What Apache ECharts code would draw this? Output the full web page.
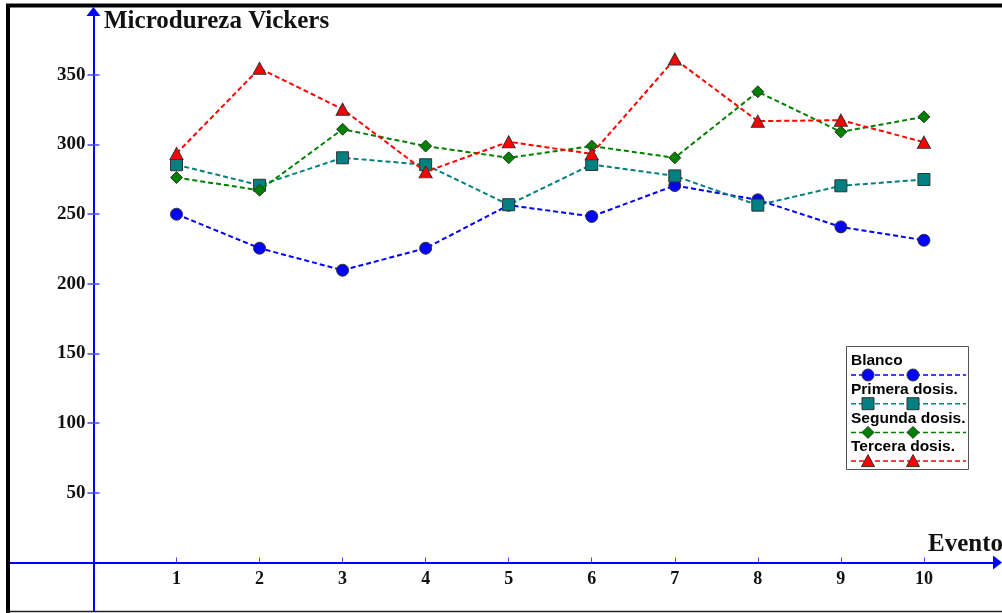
<!DOCTYPE html>
<html>
<head>
<meta charset="utf-8">
<script src="https://cdn.jsdelivr.net/npm/echarts@6/dist/echarts.min.js"></script>
<style>
  html, body { margin: 0; padding: 0; background: #ffffff; }
  #chart { width: 1002px; height: 613px; }
</style>
</head>
<body>
<div id="chart"></div>
<script>
// Event numbers on the horizontal axis and tick labels on the vertical one
const eventos = [1, 2, 3, 4, 5, 6, 7, 8, 9, 10];
const yTicks = [50, 100, 150, 200, 250, 300, 350];

// Vickers microhardness per event
const blanco  = [250.0, 225.6, 209.8, 225.6, 256.5, 248.4, 270.6, 260.3, 240.9, 231.3];
const primera = [285.5, 270.8, 290.5, 285.5, 256.8, 285.7, 277.5, 256.5, 270.4, 274.9];
const segunda = [276.3, 267.2, 311.0, 298.9, 290.5, 298.9, 290.5, 337.9, 309.1, 319.9];
const tercera = [293.6, 354.7, 325.4, 280.4, 302.0, 293.3, 361.4, 316.8, 317.5, 301.7];

const seriesNames = ['Blanco', 'Primera dosis.', 'Segunda dosis.', 'Tercera dosis.'];
const seriesValues = [blanco, primera, segunda, tercera];

// Look of each series: colour and marker
const looks = [
  { color: '#0000ff', symbol: 'circle',   size: 12 },
  { color: '#008080', symbol: 'rect',     size: 12 },
  { color: '#008000', symbol: 'diamond',  size: 12 },
  { color: '#ff0000', symbol: 'triangle', size: [13, 12] }
];

const axisBlue = '#0000ff';
const tickBlue = '#4848ff';
const dash = [5, 3];

// Plot box and axis ranges; the two axes cross at the origin
const box = { left: 9, right: 4.5, top: 11.5, bottom: 2 };
const W = 1002, H = 613;
const xMin = -1.017, xMax = 10.886;
const yMin = -34.8, yMax = 395.5;
const plotW = W - box.left - box.right;
const plotH = H - box.top - box.bottom;
const xZeroPx = box.left + (0 - xMin) / (xMax - xMin) * plotW;      // where x = 0 falls
const yZeroPx = box.top + (yMax - 0) / (yMax - yMin) * plotH;       // where y = 0 falls

const chart = echarts.init(document.getElementById('chart'), null, { renderer: 'canvas' });

// Legend drawn as a small boxed panel: name on top, dashed sample with two markers below
function markerShape(look, cx, cy) {
  const style = { fill: look.color, stroke: '#333333', lineWidth: 1 };
  if (look.symbol === 'circle') {
    return { type: 'circle', shape: { cx: cx, cy: cy, r: 6 }, style: style };
  }
  if (look.symbol === 'rect') {
    return { type: 'rect', shape: { x: cx - 6, y: cy - 6, width: 12, height: 12 }, style: style };
  }
  if (look.symbol === 'diamond') {
    return { type: 'polygon', shape: { points: [[cx, cy - 6], [cx + 6, cy], [cx, cy + 6], [cx - 6, cy]] }, style: style };
  }
  return { type: 'polygon', shape: { points: [[cx, cy - 6.5], [cx + 6.5, cy + 5.5], [cx - 6.5, cy + 5.5]] }, style: style };
}

const legendBox = { x: 846, y: 346, w: 122, h: 123 };
const legendChildren = [{
  type: 'rect',
  shape: { x: legendBox.x + 0.5, y: legendBox.y + 0.5, width: legendBox.w, height: legendBox.h },
  style: { fill: '#ffffff', stroke: '#555555', lineWidth: 1 }
}];
seriesNames.forEach(function (name, i) {
  const look = looks[i];
  const base = 369 + i * 28.7;
  const lineY = base + 6;
  legendChildren.push({
    type: 'text',
    style: {
      x: 851, y: base, text: name,
      font: 'bold 15.5px "Liberation Sans", Arial, sans-serif',
      fill: '#000000', textAlign: 'left', textVerticalAlign: 'bottom'
    }
  });
  legendChildren.push({
    type: 'line',
    shape: { x1: 851, y1: lineY, x2: 966, y2: lineY },
    style: { stroke: look.color, lineWidth: 1.5, lineDash: dash }
  });
  legendChildren.push(markerShape(look, 868, lineY));
  legendChildren.push(markerShape(look, 913, lineY));
});

const serifBold = '"Liberation Serif", "Times New Roman", serif';

const option = {
  animation: false,
  backgroundColor: '#ffffff',
  grid: { left: box.left, right: box.right, top: box.top, bottom: box.bottom, containLabel: false, outerBoundsMode: 'none' },
  xAxis: {
    type: 'value',
    position: 'bottom',
    offset: -(H - box.bottom - yZeroPx),
    min: xMin,
    max: xMax,
    axisLine: {
      onZero: false,
      lineStyle: { color: axisBlue, width: 2 },
      symbol: ['none', 'triangle'], symbolSize: [14, 9]
    },
    axisTick: { show: true, inside: true, length: 5, customValues: eventos, lineStyle: { color: tickBlue, width: 1 } },
    axisLabel: {
      customValues: eventos, margin: 8,
      fontFamily: serifBold, fontWeight: 'bold', fontSize: 18, color: '#111111'
    },
    splitLine: { show: false }
  },
  yAxis: [
    {
      type: 'value',
      position: 'left',
      offset: -(xZeroPx - box.left),
      min: yMin,
      max: yMax,
      axisLine: {
        onZero: false,
        lineStyle: { color: axisBlue, width: 2 },
        symbol: ['none', 'triangle'], symbolSize: [14, 9]
      },
      axisTick: { show: true, length: 6, customValues: yTicks, lineStyle: { color: tickBlue, width: 1.5 } },
      axisLabel: {
        customValues: yTicks, margin: 8,
        fontFamily: serifBold, fontWeight: 'bold', fontSize: 19, color: '#111111'
      },
      splitLine: { show: false }
    },
    {
      // mirror axis carrying the right-hand half of each tick
      type: 'value',
      position: 'right',
      offset: -(W - box.right - xZeroPx),
      min: yMin,
      max: yMax,
      axisLine: { show: false, onZero: false },
      axisTick: { show: true, length: 6, customValues: yTicks, lineStyle: { color: tickBlue, width: 1.5 } },
      axisLabel: { show: false },
      splitLine: { show: false }
    }
  ],
  series: seriesNames.map(function (name, i) {
    const look = looks[i];
    return {
      name: name,
      type: 'line',
      yAxisIndex: 0,
      data: eventos.map(function (e, j) { return [e, seriesValues[i][j]]; }),
      symbol: look.symbol,
      symbolSize: look.size,
      showAllSymbol: true,
      lineStyle: { color: look.color, width: 2, type: dash },
      itemStyle: { color: look.color, borderColor: '#333333', borderWidth: 1 },
      emphasis: { disabled: true },
      z: 3 + i
    };
  }),
  graphic: [
    {
      type: 'text', left: 104, top: 9, z: 20,
      style: { text: 'Microdureza Vickers', font: 'bold 25px ' + serifBold, fill: '#111111' }
    },
    {
      type: 'text', left: 928, top: 532, z: 20,
      style: { text: 'Evento', font: 'bold 25px ' + serifBold, fill: '#111111' }
    },
    { type: 'group', z: 30, children: legendChildren },
    // frame round the figure
    { type: 'line', z: 40, shape: { x1: 6, y1: 5.5, x2: 1002, y2: 5.5 }, style: { stroke: '#000000', lineWidth: 4 } },
    { type: 'line', z: 40, shape: { x1: 8, y1: 4, x2: 8, y2: 613 }, style: { stroke: '#000000', lineWidth: 4 } },
    { type: 'line', z: 40, shape: { x1: 6, y1: 611.5, x2: 1002, y2: 611.5 }, style: { stroke: '#222222', lineWidth: 1.5 } }
  ]
};

chart.setOption(option);
</script>
</body>
</html>
